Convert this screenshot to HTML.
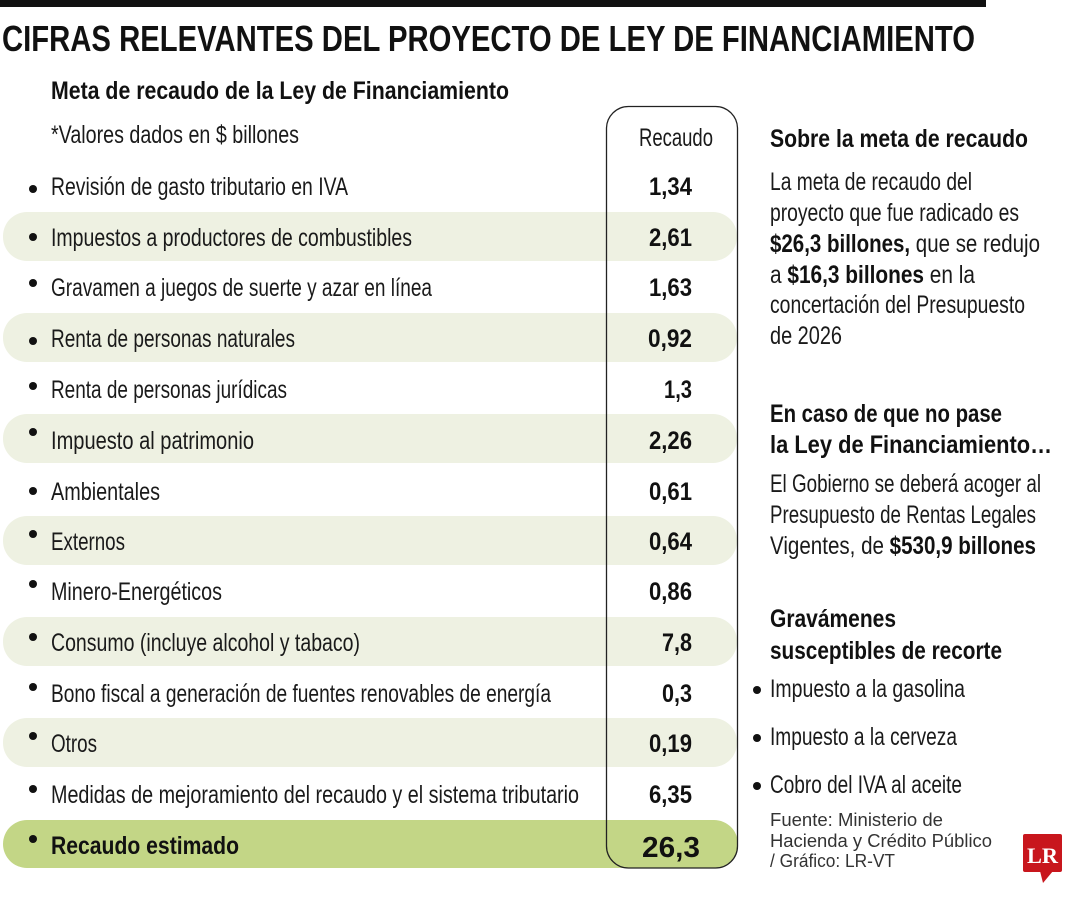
<!DOCTYPE html>
<html><head><meta charset="utf-8"><style>
html,body{margin:0;padding:0;background:#fff;}
svg{display:block;}
.n{font-family:"Liberation Sans Narrow","Liberation Sans",sans-serif;fill:#1a1a1a;}
.b{font-family:"Liberation Sans Narrow","Liberation Sans",sans-serif;font-weight:bold;fill:#111;}
.w{font-family:"Liberation Sans",sans-serif;fill:#333;}
</style></head><body>
<svg width="1080" height="900" viewBox="0 0 1080 900" xmlns="http://www.w3.org/2000/svg">
<rect x="0" y="0" width="986" height="7" fill="#111"/>
<text x="2" y="51" font-family="'Liberation Sans',sans-serif" font-weight="bold" font-size="36" fill="#111" textLength="973" lengthAdjust="spacingAndGlyphs">CIFRAS RELEVANTES DEL PROYECTO DE LEY DE FINANCIAMIENTO</text>

<!-- bands -->
<g fill="#eef1e2">
<rect x="3" y="212" width="734" height="49" rx="24"/>
<rect x="3" y="313" width="734" height="49" rx="24"/>
<rect x="3" y="414" width="734" height="49" rx="24"/>
<rect x="3" y="516" width="734" height="49" rx="24"/>
<rect x="3" y="617" width="734" height="49" rx="24"/>
<rect x="3" y="718" width="734" height="49" rx="24"/>
</g>
<rect x="3" y="820" width="735" height="48" rx="24" fill="#c3d686"/>
<rect x="606.5" y="106.5" width="131" height="761.5" rx="22" fill="none" stroke="#222" stroke-width="1.3"/>

<text class="b" x="51" y="99" font-size="25" textLength="458" lengthAdjust="spacingAndGlyphs">Meta de recaudo de la Ley de Financiamiento</text>
<text class="n" x="51" y="143" font-size="25" textLength="248" lengthAdjust="spacingAndGlyphs">*Valores dados en $ billones</text>
<text class="n" x="639" y="146" font-size="25" textLength="74" lengthAdjust="spacingAndGlyphs">Recaudo</text>

<g fill="#111">
<circle cx="33" cy="189" r="4"/>
<circle cx="33" cy="237" r="4"/>
<circle cx="33" cy="283" r="4"/>
<circle cx="33" cy="341" r="4"/>
<circle cx="33" cy="386" r="4"/>
<circle cx="33" cy="432" r="4"/>
<circle cx="33" cy="491" r="4"/>
<circle cx="33" cy="534" r="4"/>
<circle cx="33" cy="584" r="4"/>
<circle cx="33" cy="637" r="4"/>
<circle cx="33" cy="687" r="4"/>
<circle cx="33" cy="736" r="4"/>
<circle cx="33" cy="789" r="4"/>
<circle cx="33" cy="839" r="4"/>
</g>

<g font-size="25">
<text class="n" x="51" y="195" textLength="297" lengthAdjust="spacingAndGlyphs">Revisión de gasto tributario en IVA</text>
<text class="n" x="51" y="246" textLength="361" lengthAdjust="spacingAndGlyphs">Impuestos a productores de combustibles</text>
<text class="n" x="51" y="296" textLength="381" lengthAdjust="spacingAndGlyphs">Gravamen a juegos de suerte y azar en línea</text>
<text class="n" x="51" y="347" textLength="244" lengthAdjust="spacingAndGlyphs">Renta de personas naturales</text>
<text class="n" x="51" y="398" textLength="236" lengthAdjust="spacingAndGlyphs">Renta de personas jurídicas</text>
<text class="n" x="51" y="449" textLength="203" lengthAdjust="spacingAndGlyphs">Impuesto al patrimonio</text>
<text class="n" x="51" y="500" textLength="109" lengthAdjust="spacingAndGlyphs">Ambientales</text>
<text class="n" x="51" y="550" textLength="74" lengthAdjust="spacingAndGlyphs">Externos</text>
<text class="n" x="51" y="600" textLength="171" lengthAdjust="spacingAndGlyphs">Minero-Energéticos</text>
<text class="n" x="51" y="651" textLength="309" lengthAdjust="spacingAndGlyphs">Consumo (incluye alcohol y tabaco)</text>
<text class="n" x="51" y="702" textLength="500" lengthAdjust="spacingAndGlyphs">Bono fiscal a generación de fuentes renovables de energía</text>
<text class="n" x="51" y="752" textLength="46" lengthAdjust="spacingAndGlyphs">Otros</text>
<text class="n" x="51" y="803" textLength="528" lengthAdjust="spacingAndGlyphs">Medidas de mejoramiento del recaudo y el sistema tributario</text>
<text class="b" x="51" y="854" textLength="188" lengthAdjust="spacingAndGlyphs">Recaudo estimado</text>

<text class="b" x="649" y="195" textLength="43" lengthAdjust="spacingAndGlyphs">1,34</text>
<text class="b" x="649" y="246" textLength="43" lengthAdjust="spacingAndGlyphs">2,61</text>
<text class="b" x="649" y="296" textLength="43" lengthAdjust="spacingAndGlyphs">1,63</text>
<text class="b" x="648" y="347" textLength="44" lengthAdjust="spacingAndGlyphs">0,92</text>
<text class="b" x="664" y="398" textLength="28" lengthAdjust="spacingAndGlyphs">1,3</text>
<text class="b" x="649" y="449" textLength="43" lengthAdjust="spacingAndGlyphs">2,26</text>
<text class="b" x="649" y="500" textLength="43" lengthAdjust="spacingAndGlyphs">0,61</text>
<text class="b" x="649" y="550" textLength="43" lengthAdjust="spacingAndGlyphs">0,64</text>
<text class="b" x="649" y="600" textLength="43" lengthAdjust="spacingAndGlyphs">0,86</text>
<text class="b" x="662" y="651" textLength="30" lengthAdjust="spacingAndGlyphs">7,8</text>
<text class="b" x="662" y="702" textLength="30" lengthAdjust="spacingAndGlyphs">0,3</text>
<text class="b" x="649" y="752" textLength="43" lengthAdjust="spacingAndGlyphs">0,19</text>
<text class="b" x="649" y="803" textLength="43" lengthAdjust="spacingAndGlyphs">6,35</text>
</g>
<text class="b" x="642" y="857" font-size="29" textLength="58" lengthAdjust="spacingAndGlyphs">26,3</text>

<!-- right panel -->
<g font-size="25">
<text class="b" x="770" y="147" textLength="258" lengthAdjust="spacingAndGlyphs">Sobre la meta de recaudo</text>
<text class="n" x="770" y="190" textLength="202" lengthAdjust="spacingAndGlyphs">La meta de recaudo del</text>
<text class="n" x="770" y="221" textLength="249" lengthAdjust="spacingAndGlyphs">proyecto que fue radicado es</text>
<text class="n" x="770" y="252" textLength="270" lengthAdjust="spacingAndGlyphs"><tspan class="b">$26,3 billones,</tspan> que se redujo</text>
<text class="n" x="770" y="283" textLength="205" lengthAdjust="spacingAndGlyphs">a <tspan class="b">$16,3 billones</tspan> en la</text>
<text class="n" x="770" y="313" textLength="255" lengthAdjust="spacingAndGlyphs">concertación del Presupuesto</text>
<text class="n" x="770" y="344" textLength="72" lengthAdjust="spacingAndGlyphs">de 2026</text>

<text class="b" x="770" y="422" textLength="232" lengthAdjust="spacingAndGlyphs">En caso de que no pase</text>
<text class="b" x="770" y="453" textLength="282" lengthAdjust="spacingAndGlyphs">la Ley de Financiamiento…</text>
<text class="n" x="770" y="492" textLength="271" lengthAdjust="spacingAndGlyphs">El Gobierno se deberá acoger al</text>
<text class="n" x="770" y="523" textLength="266" lengthAdjust="spacingAndGlyphs">Presupuesto de Rentas Legales</text>
<text class="n" x="770" y="554" textLength="266" lengthAdjust="spacingAndGlyphs">Vigentes, de <tspan class="b">$530,9 billones</tspan></text>

<text class="b" x="770" y="627" textLength="126" lengthAdjust="spacingAndGlyphs">Gravámenes</text>
<text class="b" x="770" y="659" textLength="232" lengthAdjust="spacingAndGlyphs">susceptibles de recorte</text>
<text class="n" x="770" y="697" textLength="195" lengthAdjust="spacingAndGlyphs">Impuesto a la gasolina</text>
<text class="n" x="770" y="745" textLength="187" lengthAdjust="spacingAndGlyphs">Impuesto a la cerveza</text>
<text class="n" x="770" y="793" textLength="192" lengthAdjust="spacingAndGlyphs">Cobro del IVA al aceite</text>
</g>
<g fill="#111">
<circle cx="757" cy="690" r="4"/>
<circle cx="757" cy="738" r="4"/>
<circle cx="757" cy="786" r="4"/>
</g>
<g font-size="18">
<text class="w" x="770" y="826" textLength="173" lengthAdjust="spacingAndGlyphs">Fuente: Ministerio de</text>
<text class="w" x="770" y="847" textLength="222" lengthAdjust="spacingAndGlyphs">Hacienda y Crédito Público</text>
<text class="w" x="770" y="867" textLength="125" lengthAdjust="spacingAndGlyphs">/ Gráfico: LR-VT</text>
</g>
<!-- LR logo -->
<rect x="1023" y="834" width="39" height="38" rx="2" fill="#c8161d"/>
<polygon points="1040,871 1053,871 1043,883" fill="#c8161d"/>
<text x="1042.5" y="863" text-anchor="middle" font-family="'Liberation Serif',serif" font-weight="bold" font-size="22" fill="#fff" textLength="31" lengthAdjust="spacingAndGlyphs">LR</text>
</svg>
</body></html>
